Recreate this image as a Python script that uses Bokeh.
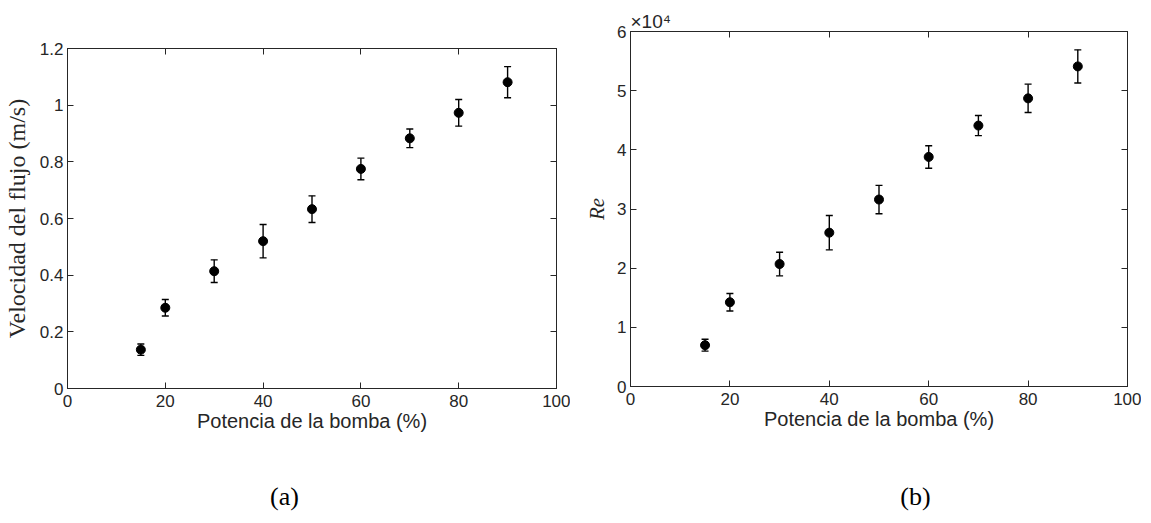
from bokeh.plotting import figure
from bokeh.models import (ColumnDataSource, Whisker, TeeHead, LinearAxis, FixedTicker,
                          Range1d, Title, CustomJSTickFormatter)
from bokeh.embed import file_html
from bokeh.resources import INLINE

# ---- data ----
potencia = [15, 20, 30, 40, 50, 60, 70, 80, 90]
velocidad = [0.137, 0.285, 0.414, 0.520, 0.633, 0.775, 0.883, 0.973, 1.081]
velocidad_err = [0.020, 0.029, 0.040, 0.059, 0.047, 0.038, 0.033, 0.047, 0.055]
reynolds = [6980, 14240, 20700, 26000, 31600, 38800, 44100, 48700, 54100]
reynolds_err = [1000, 1470, 2000, 2900, 2400, 1900, 1700, 2400, 2800]

x_ticks = [0, 20, 40, 60, 80, 100]
vel_ticks = [0, 0.2, 0.4, 0.6, 0.8, 1, 1.2]
vel_tick_labels = ["0", "0.2", "0.4", "0.6", "0.8", "1", "1.2"]
re_ticks = [0, 10000, 20000, 30000, 40000, 50000, 60000]
re_tick_labels = ["0", "1", "2", "3", "4", "5", "6"]

x_label = "Potencia de la bomba (%)"
vel_label = "Velocidad del flujo (m/s)"
re_label = "Re"
re_exponent = "\u00d710\u2074"
captions = ["(a)", "(b)"]

AX = "#262626"
SANS = "Liberation Sans"
SERIF = "Liberation Serif"


def style_axis(ax, ticks, labels=None, show_labels=True):
    ax.ticker = FixedTicker(ticks=ticks)
    ax.minor_tick_line_color = None
    ax.major_tick_in = 6
    ax.major_tick_out = 0
    ax.major_tick_line_color = AX
    ax.axis_line_color = AX
    ax.major_label_text_color = AX
    ax.major_label_text_font = SANS
    ax.major_label_text_font_size = "17px"
    ax.major_label_standoff = 4
    if show_labels:
        if labels is not None:
            ax.major_label_overrides = {t: l for t, l in zip(ticks, labels)}
    else:
        ax.formatter = CustomJSTickFormatter(code="return ''")
        ax.major_label_text_font_size = "0px"
        ax.major_label_standoff = 0


def make_panel(x, y, err, yticks, ylabels, ymax, ylabel, ylabel_style, ylabel_size,
               ylabel_standoff, w, h, bl, bt, br, bb, fw, cap, cap_px, cap_standoff, pos_left):
    p = figure(width=w, height=h, output_backend="svg", toolbar_location=None,
               x_range=Range1d(0, 100), y_range=Range1d(0, ymax),
               min_border_left=bl, min_border_top=bt, min_border_right=br, min_border_bottom=bb,
               background_fill_color="white", border_fill_color="white")
    p.styles = {"position": "absolute", "left": f"{pos_left}px", "top": "8px"}
    p.grid.visible = False
    p.outline_line_color = AX
    p.outline_line_alpha = 1.0

    xa = p.xaxis[0]
    style_axis(xa, x_ticks)
    xa.major_label_standoff = 6
    xa.axis_label = x_label
    xa.axis_label_text_font = SANS
    xa.axis_label_text_font_size = "20px"
    xa.axis_label_text_font_style = "normal"
    xa.axis_label_text_color = AX
    xa.axis_label_standoff = 0

    ya = p.yaxis[0]
    style_axis(ya, yticks, ylabels)
    ya.axis_label = ylabel
    ya.axis_label_text_font = SERIF
    ya.axis_label_text_font_size = ylabel_size
    ya.axis_label_text_font_style = ylabel_style
    ya.axis_label_text_color = AX
    ya.axis_label_standoff = ylabel_standoff

    top = LinearAxis()
    style_axis(top, x_ticks, show_labels=False)
    p.add_layout(top, "above")
    right = LinearAxis()
    style_axis(right, yticks, show_labels=False)
    p.add_layout(right, "right")

    # caption "(a)"/"(b)" as the single label of a bare axis placed under the x axis
    cap_x = cap_px / fw * 100.0
    cax = LinearAxis(ticker=FixedTicker(ticks=[cap_x]),
                     major_label_overrides={cap_x: cap})
    cax.axis_line_color = None
    cax.major_tick_line_color = None
    cax.minor_tick_line_color = None
    cax.major_tick_in = 0
    cax.major_tick_out = 0
    cax.major_label_standoff = cap_standoff
    cax.major_label_text_font = SERIF
    cax.major_label_text_font_size = "26px"
    cax.major_label_text_color = "black"
    p.add_layout(cax, "below")

    src = ColumnDataSource(dict(x=x, y=y,
                                lo=[a - b for a, b in zip(y, err)],
                                hi=[a + b for a, b in zip(y, err)]))
    wk = Whisker(source=src, base="x", lower="lo", upper="hi",
                 line_color="black", line_width=1.4,
                 upper_head=TeeHead(size=7, line_color="black", line_width=1.4),
                 lower_head=TeeHead(size=7, line_color="black", line_width=1.4))
    p.add_layout(wk)
    p.scatter("x", "y", source=src, size=9, color="black")
    return p


left = make_panel(potencia, velocidad, velocidad_err, vel_ticks, vel_tick_labels, 1.2,
                  vel_label, "normal", "24px", 7,
                  w=570, h=515, bl=67, bt=40, br=14, bb=135, fw=489,
                  cap=captions[0], cap_px=217, cap_standoff=47, pos_left=0)

right = make_panel(potencia, reynolds, reynolds_err, re_ticks, re_tick_labels, 60000,
                   re_label, "italic", "21px", 5,
                   w=571, h=515, bl=60, bt=23, br=14, bb=137, fw=497,
                   cap=captions[1], cap_px=285, cap_standoff=49, pos_left=570)

right.add_layout(Title(text=re_exponent, text_font=SANS, text_font_size="19px",
                       text_font_style="normal", text_color=AX,
                       align="left", offset=0, standoff=0), "above")

open("out.html", "w").write(file_html([left, right], INLINE))
